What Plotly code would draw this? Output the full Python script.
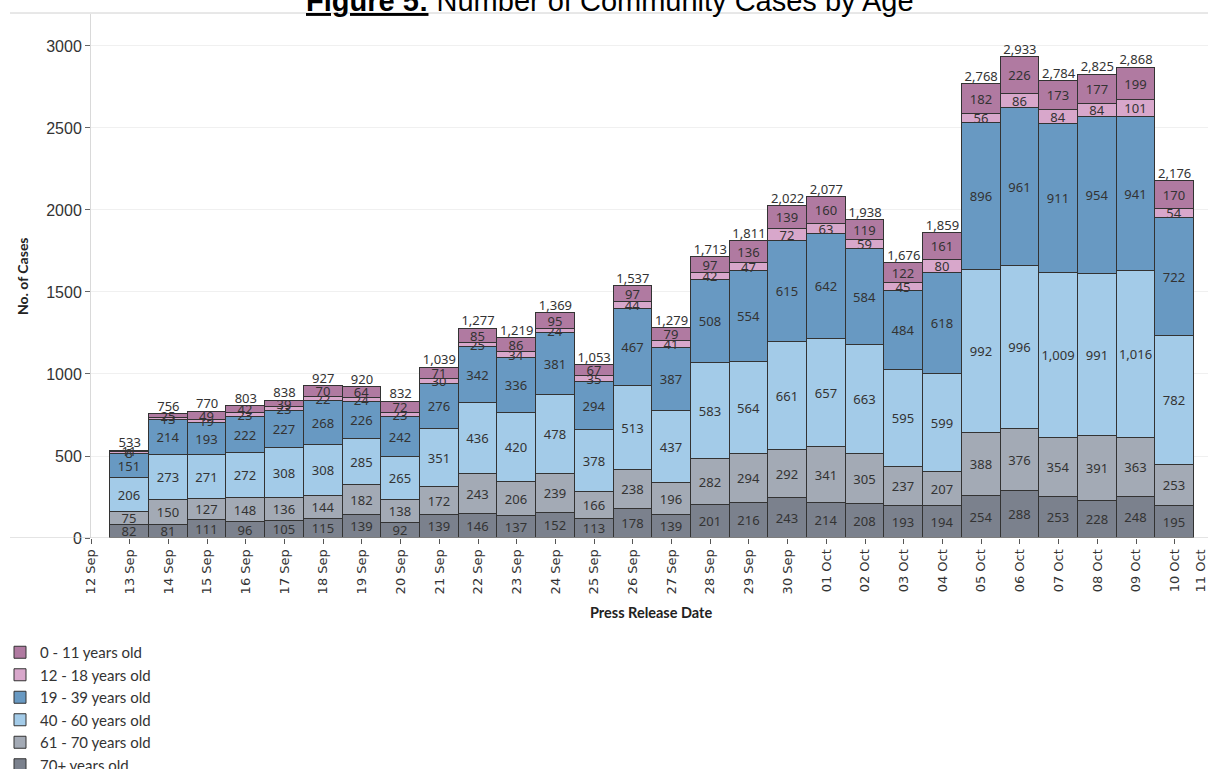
import plotly.graph_objects as go
import pandas as pd

# ---------------- data ----------------
dates = ['2021-09-13', '2021-09-14', '2021-09-15', '2021-09-16', '2021-09-17', '2021-09-18',
         '2021-09-19', '2021-09-20', '2021-09-21', '2021-09-22', '2021-09-23', '2021-09-24',
         '2021-09-25', '2021-09-26', '2021-09-27', '2021-09-28', '2021-09-29', '2021-09-30',
         '2021-10-01', '2021-10-02', '2021-10-03', '2021-10-04', '2021-10-05', '2021-10-06',
         '2021-10-07', '2021-10-08', '2021-10-09', '2021-10-10']

age_0_11 = [11, 25, 49, 42, 39, 70, 64, 72, 71, 85, 86, 95, 67, 97, 79, 97, 136, 139, 160, 119,
            122, 161, 182, 226, 173, 177, 199, 170]
age_12_18 = [8, 13, 19, 23, 23, 22, 24, 23, 30, 25, 34, 24, 35, 44, 41, 42, 47, 72, 63, 59,
             45, 80, 56, 86, 84, 84, 101, 54]
age_19_39 = [151, 214, 193, 222, 227, 268, 226, 242, 276, 342, 336, 381, 294, 467, 387, 508, 554,
             615, 642, 584, 484, 618, 896, 961, 911, 954, 941, 722]
age_40_60 = [206, 273, 271, 272, 308, 308, 285, 265, 351, 436, 420, 478, 378, 513, 437, 583, 564,
             661, 657, 663, 595, 599, 992, 996, 1009, 991, 1016, 782]
age_61_70 = [75, 150, 127, 148, 136, 144, 182, 138, 172, 243, 206, 239, 166, 238, 196, 282, 294,
             292, 341, 305, 237, 207, 388, 376, 354, 391, 363, 253]
age_70p = [82, 81, 111, 96, 105, 115, 139, 92, 139, 146, 137, 152, 113, 178, 139, 201, 216, 243,
           214, 208, 193, 194, 254, 288, 253, 228, 248, 195]
totals = [533, 756, 770, 803, 838, 927, 920, 832, 1039, 1277, 1219, 1369, 1053, 1537, 1279, 1713,
          1811, 2022, 2077, 1938, 1676, 1859, 2768, 2933, 2784, 2825, 2868, 2176]

series_names = ['70+ years old', '61 - 70 years old', '40 - 60 years old',
                '19 - 39 years old', '12 - 18 years old', '0 - 11 years old']
series_values = [age_70p, age_61_70, age_40_60, age_19_39, age_12_18, age_0_11]
series_colors = ['#7b818d', '#a3aab5', '#a3cbe8', '#6899c2', '#d8a7cb', '#b07aa1']

y_tickvals = [0, 500, 1000, 1500, 2000, 2500, 3000]

# ---------------- figure ----------------
NUM_FONT = 'Noto Sans, DejaVu Sans, sans-serif'
DAY_MS = 86400000

fig = go.Figure()
for name, vals, col in zip(series_names, series_values, series_colors):
    fig.add_trace(go.Bar(
        x=dates, y=vals, name=name, width=DAY_MS,
        marker=dict(color=col, line=dict(color='#333333', width=1)),
        text=vals, texttemplate='%{y:,}', textposition='inside',
        insidetextanchor='middle', textangle=0,
        textfont=dict(family=NUM_FONT, size=13, color='#333333'),
        hoverinfo='skip', cliponaxis=False,
    ))

fig.add_trace(go.Scatter(
    x=dates, y=totals, mode='text', text=[f'{v:,}' for v in totals],
    textposition='top center', showlegend=False, hoverinfo='skip', cliponaxis=False,
    textfont=dict(family=NUM_FONT, size=13, color='#333333'),
))

start = pd.Timestamp('2021-09-12')
end = start + pd.Timedelta(days=28.86)

fig.update_layout(
    width=1208, height=769,
    margin=dict(l=91, r=0, t=14, b=231, autoexpand=False),
    paper_bgcolor='white', plot_bgcolor='white',
    barmode='stack', bargap=0,
    uniformtext=dict(minsize=13, mode='show'),
    showlegend=True,
    legend=dict(
        orientation='v', traceorder='reversed',
        xref='container', x=0.0, xanchor='left',
        yref='container', y=1 - 636 / 769, yanchor='top',
        font=dict(family='Lato, Noto Sans, sans-serif', size=15, color='#333333'),
        bgcolor='rgba(0,0,0,0)', itemclick=False,
    ),
    xaxis=dict(
        type='date', range=[start, end],
        tick0='2021-09-12', dtick=DAY_MS, tickformat='%d %b', tickangle=-90,
        ticks='outside', ticklen=5, tickcolor='#555555',
        tickfont=dict(family='DejaVu Sans, sans-serif', size=13, color='#333333'),
        showgrid=False, showline=False, zeroline=False,
    ),
    yaxis=dict(
        range=[0, 3195], tickvals=y_tickvals,
        ticks='outside', ticklen=5, tickcolor='#666666',
        tickfont=dict(family='Liberation Sans Narrow, Arial Narrow, Liberation Sans, sans-serif',
                      size=16, color='#333333'),
        showgrid=True, gridcolor='#f0f0f0', gridwidth=1,
        showline=True, linecolor='#d9d9d9', linewidth=1, zeroline=False,
    ),
    annotations=[
        dict(text='<b><u>Figure 5:</u></b> Number of Community Cases by Age',
             xref='paper', yref='paper', x=(610 - 91) / 1117, y=1 + (14 - 1) / 524,
             xanchor='center', yanchor='middle', showarrow=False,
             font=dict(family='Liberation Sans, Arial, sans-serif', size=29, color='#000000')),
        dict(text='<b>No. of Cases</b>', xref='paper', yref='paper',
             x=(22 - 91) / 1117, y=0.5, xanchor='center', yanchor='middle',
             textangle=-90, showarrow=False,
             font=dict(family='Lato, Noto Sans, sans-serif', size=14, color='#222222')),
        dict(text='<b>Press Release Date</b>', xref='paper', yref='paper',
             x=(651 - 91) / 1117, y=(538 - 612) / 524, xanchor='center', yanchor='middle',
             showarrow=False,
             font=dict(family='Lato, Noto Sans, sans-serif', size=14.5, color='#222222')),
        dict(text='11 Oct', xref='paper', yref='paper',
             x=(1200 - 91) / 1117, y=(538 - 548) / 524, xanchor='center', yanchor='top',
             textangle=-90, showarrow=False,
             font=dict(family='DejaVu Sans, sans-serif', size=13, color='#333333')),
    ],
    shapes=[
        dict(type='line', xref='paper', yref='paper', x0=(10 - 91) / 1117, x1=1,
             y0=1 + 1 / 524, y1=1 + 1 / 524, line=dict(color='#d0d0d0', width=1)),
        dict(type='line', xref='paper', yref='y', x0=(10 - 91) / 1117, x1=1,
             y0=0, y1=0, line=dict(color='#c8c8c8', width=1), layer='above'),
    ],
)

fig.write_html('out.html',
               config={'displayModeBar': False},
               post_script="document.body.style.margin='0';document.body.style.overflow='hidden';")
